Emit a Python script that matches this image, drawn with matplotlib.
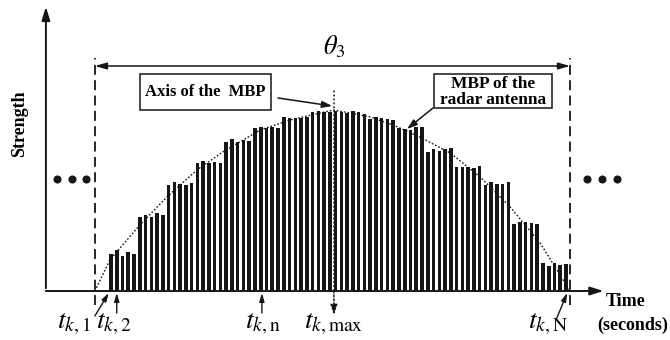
import matplotlib
matplotlib.use('Agg')
import matplotlib.pyplot as plt
from matplotlib.patches import Rectangle

plt.rcParams['font.family'] = ['Liberation Serif', 'DejaVu Serif']
plt.rcParams['mathtext.fontset'] = 'stix'

# 80 echo samples inside the beamwidth, 16 steps of 5 pulses each
heights = [37, 41, 35, 39, 37,
           74, 76, 74, 78, 76,
           106, 109, 107, 106, 108,
           128, 130, 128, 129, 128,
           149, 152, 149, 151, 150,
           163, 164, 163, 164, 163,
           174, 173, 173, 173, 174,
           179, 180, 179, 179, 180,
           179, 178, 180, 179, 177,
           172, 174, 173, 172, 171,
           163, 162, 161, 164, 164,
           139, 142, 140, 142, 143,
           124, 124, 124, 123, 125,
           106, 109, 107, 107, 109,
           67, 69, 69, 68, 67,
           28, 25, 28, 26, 27]
samples = list(range(len(heights)))

# antenna main beam pattern
env_t = [-2.8, -0.2, 5.0, 9.7, 14.9, 19.4, 25.9, 31.1, 36.3, 38.7,
         45.0, 49.0, 53.6, 58.9, 64.1, 69.3, 74.5, 79.7]
env_h = [0, 31, 66, 94, 121, 139, 161, 171, 178, 181,
         174, 166, 154, 138, 114, 84, 48, 0]

t_first, t_last = -2.8, 79.7
t_axis = 38.7

fig = plt.figure(figsize=(6.7, 3.4), dpi=100)
ax = fig.add_axes([0, 0, 1, 1])
ax.set_xlim(-19.27, 97.05)
ax.set_ylim(-49, 291)
ax.axis('off')

ink = '#161616'
ax.bar(samples, heights, width=0.62, color=ink, linewidth=0)
ax.plot(env_t, env_h, ls=(0, (1.2, 1.4)), color=ink, lw=1.0)

# axes with arrows
ax.annotate('', xy=(-11.3, 287), xytext=(-11.3, 0),
            arrowprops=dict(arrowstyle='-|>,head_length=0.8,head_width=0.25', color=ink, lw=1.4))
ax.annotate('', xy=(86.0, 0), xytext=(-11.8, 0),
            arrowprops=dict(arrowstyle='-|>,head_length=0.8,head_width=0.25', color=ink, lw=1.4))
ax.text(-15.9, 167, 'Strength', rotation=90, ha='center', va='center',
        fontsize=13, fontweight='bold')
ax.text(89.3, -11, 'Time', ha='center', va='center', fontsize=13, fontweight='bold')
ax.text(90.5, -34, '(seconds)', ha='center', va='center', fontsize=13, fontweight='bold')

# beamwidth limits
for t in (t_first, t_last):
    ax.plot([t, t], [-14, 233], ls=(0, (5.5, 3)), color=ink, lw=1.3)
ax.annotate('', xy=(t_first, 225), xytext=(t_last, 225),
            arrowprops=dict(arrowstyle='<|-|>,head_length=0.7,head_width=0.2', color=ink, lw=1.1,
                            shrinkA=0, shrinkB=0))
ax.text(t_axis, 244, r'$\theta_3$', ha='center', va='center', fontsize=19)

# dots
for side in ([-9.4, -6.8, -4.3], [82.6, 85.2, 87.8]):
    ax.plot(side, [112] * 3, 'o', color=ink, ms=4.8)

# axis of the main beam
ax.plot([t_axis, t_axis], [0, 202], ls=(0, (1.2, 1.4)), color=ink, lw=1.1)
ax.annotate('', xy=(t_axis, -24), xytext=(t_axis, 0),
            arrowprops=dict(arrowstyle='-|>,head_length=0.6,head_width=0.2', color=ink, lw=1.1,
                            ls=(0, (1.2, 1.4)), shrinkA=0, shrinkB=0))

# boxes
ax.add_patch(Rectangle((5.0, 181), 22.8, 36, fill=False, ec=ink, lw=1.1))
ax.text(16.4, 199, 'Axis of the  MBP', ha='center', va='center', fontsize=12, fontweight='bold')
ax.annotate('', xy=(38.4, 185), xytext=(29.0, 193),
            arrowprops=dict(arrowstyle='-|>,head_length=0.6,head_width=0.2', color=ink, lw=1.1,
                            shrinkA=0, shrinkB=0))
ax.add_patch(Rectangle((56.1, 183), 20.5, 34, fill=False, ec=ink, lw=1.1))
ax.text(66.3, 207, 'MBP of the', ha='center', va='center', fontsize=12.5, fontweight='bold')
ax.text(66.3, 191, 'radar antenna', ha='center', va='center', fontsize=12.5, fontweight='bold')
ax.annotate('', xy=(51.4, 162), xytext=(55.9, 183),
            arrowprops=dict(arrowstyle='-|>,head_length=0.6,head_width=0.2', color=ink, lw=1.1,
                            shrinkA=0, shrinkB=0))

# time instant markers
arrow_kw = dict(arrowstyle='-|>,head_length=0.5,head_width=0.15', color=ink, lw=1.0,
                shrinkA=0, shrinkB=0)
markers = [
    ((-0.4, -2), (-2.8, -25), r'$t_{k,1}$', -6.4),
    ((1.0, -2), (1.0, -22), r'$t_{k,2}$', 0.4),
    ((26.2, -2), (26.2, -22), r'$t_{k,\mathrm{n}}$', 26.4),
    ((79.2, -2), (77.4, -27), r'$t_{k,\mathrm{N}}$', 75.8),
]
for tip, tail, lab, tx in markers:
    ax.annotate('', xy=tip, xytext=tail, arrowprops=arrow_kw)
    ax.text(tx, -33, lab, ha='center', va='center', fontsize=20)
ax.text(t_axis, -33, r'$t_{k,\mathrm{max}}$', ha='center', va='center', fontsize=20)

fig.savefig('out.png', dpi=100)
